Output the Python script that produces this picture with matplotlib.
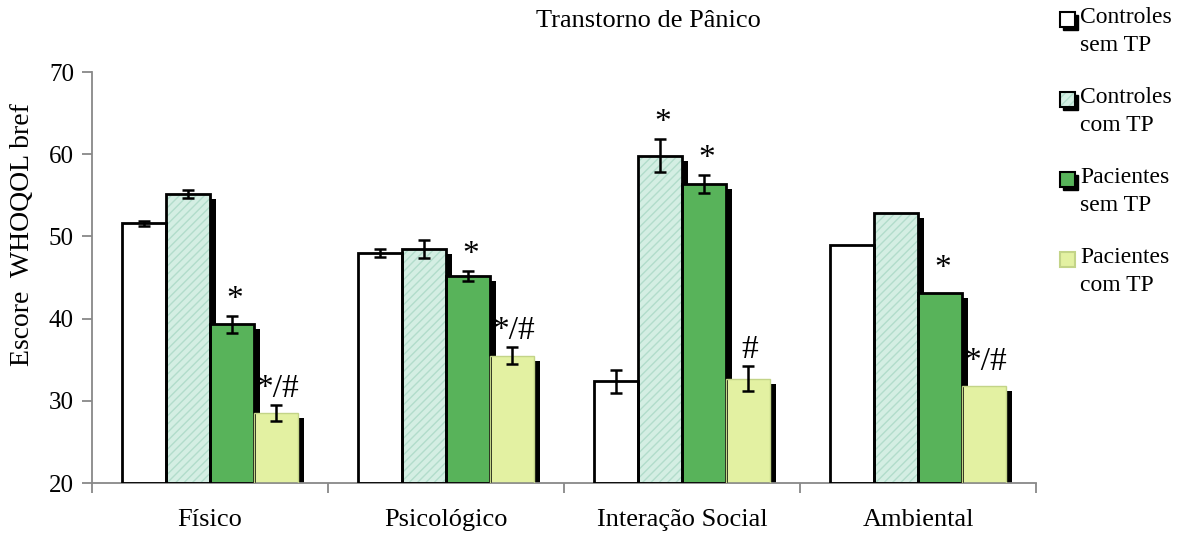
import numpy as np
import matplotlib
matplotlib.use('Agg')
import matplotlib.pyplot as plt
import matplotlib.transforms as mtransforms
from matplotlib.patches import Rectangle

plt.rcParams['font.family'] = ['Liberation Serif', 'DejaVu Serif']

categories = ['Físico', 'Psicológico', 'Interação Social', 'Ambiental']
labels = ['Controles\nsem TP', 'Controles\ncom TP', 'Pacientes\nsem TP', 'Pacientes\ncom TP']

ctrl_sem = [51.6, 48.0, 32.4, 48.9]
ctrl_sem_err = [0.3, 0.45, 1.4, np.nan]
ctrl_com = [55.2, 48.5, 59.8, 52.8]
ctrl_com_err = [0.5, 1.1, 2.0, np.nan]
pac_sem = [39.3, 45.2, 56.4, 43.1]
pac_sem_err = [1.0, 0.6, 1.1, np.nan]
pac_com = [28.5, 35.5, 32.7, 31.8]
pac_com_err = [1.0, 1.0, 1.5, np.nan]

ctrl_sem_marks = ['', '', '', '']
ctrl_com_marks = ['', '', '*', '']
pac_sem_marks = ['*', '*', '*', '*']
pac_com_marks = ['*/#', '*/#', '#', '*/#']

series = [
    (ctrl_sem, ctrl_sem_err, ctrl_sem_marks),
    (ctrl_com, ctrl_com_err, ctrl_com_marks),
    (pac_sem, pac_sem_err, pac_sem_marks),
    (pac_com, pac_com_err, pac_com_marks),
]
faces = ['white', '#d4eee3', '#58b35a', '#e3f1a2']
hatches = [None, '////', None, None]
hatch_cols = ['white', '#b2dccb', '#58b35a', '#e3f1a2']
edges = ['black', 'black', 'black', '#c3d488']
edge_w = [2.0, 2.0, 2.0, 1.0]

fig = plt.figure(figsize=(11.87, 5.43), dpi=100)
ax = fig.add_axes([92 / 1187, 60 / 543, 944 / 1187, 411 / 543])

x = np.arange(len(categories))
w = 0.186
shadow = ax.transData + mtransforms.ScaledTranslation(6 / 100, -5 / 100, fig.dpi_scale_trans)

# shadows first, behind every bar
for i, (vals, err, marks) in enumerate(series):
    xs = x + (i - 1.5) * w
    ax.bar(xs, np.array(vals) - 20, w, bottom=20, color='black', zorder=1,
           transform=shadow)

for i, (vals, err, marks) in enumerate(series):
    xs = x + (i - 1.5) * w
    ax.bar(xs, np.array(vals) - 20, w, bottom=20, color=faces[i],
           hatch=hatches[i], edgecolor=hatch_cols[i], linewidth=0, zorder=2)
    ax.bar(xs, np.array(vals) - 20, w, bottom=20, fill=False,
           edgecolor=edges[i], linewidth=edge_w[i], zorder=3)
    err = np.array(err)
    ok = ~np.isnan(err)
    ax.errorbar(xs[ok], np.array(vals)[ok], yerr=err[ok], fmt='none',
                ecolor='black', elinewidth=1.8, capsize=4, capthick=1.8, zorder=4)
    for xi, v, e, m in zip(xs, vals, err, marks):
        if m:
            top = v + 1.0 if np.isnan(e) else v + e
            ax.text(xi + 0.01, top + 1.0, m, ha='center', va='baseline',
                    fontsize=24, zorder=5)

ax.set_xlim(-0.5, 3.5)
ax.set_ylim(20, 70)
ax.set_yticks([20, 30, 40, 50, 60, 70])
ax.set_xticks(x)
ax.set_xticklabels(categories, fontsize=19)
ax.set_xticks(np.arange(-0.5, 4, 1), minor=True)
ax.tick_params(axis='x', which='major', length=0, pad=19)
ax.tick_params(axis='x', which='minor', length=7, width=1.3, color='#888888')
ax.tick_params(axis='y', length=7, width=1.3, color='#888888', labelsize=18, pad=6)
for s in ['top', 'right']:
    ax.spines[s].set_visible(False)
for s in ['left', 'bottom']:
    ax.spines[s].set_color('#888888')
    ax.spines[s].set_linewidth(1.3)

fig.text(648 / 1187, 1 - 21 / 543, 'Transtorno de Pânico', ha='center', va='center',
         fontsize=19)
fig.text(23 / 1187, 1 - 235 / 543, 'Escore  WHOQOL bref', ha='center', va='center',
         rotation=90, fontsize=20)

# legend drawn by hand so the box sits next to the first line
W, H = 1187, 543
for i, lab in enumerate(labels):
    y0 = 12 + 80 * i
    if i < 3:
        fig.patches.append(Rectangle(((1060 + 3) / W, 1 - (y0 + 15 + 3) / H), 15 / W, 15 / H,
                                     transform=fig.transFigure, color='black'))
    fig.patches.append(Rectangle((1060 / W, 1 - (y0 + 15) / H), 15 / W, 15 / H,
                                 transform=fig.transFigure, facecolor=faces[i],
                                 hatch=hatches[i], edgecolor=hatch_cols[i], linewidth=0))
    fig.patches.append(Rectangle((1060 / W, 1 - (y0 + 15) / H), 15 / W, 15 / H,
                                 transform=fig.transFigure, fill=False,
                                 edgecolor=edges[i], linewidth=1.5))
    fig.text(1080 / W, 1 - (y0 - 5) / H, lab, ha='left', va='top', fontsize=17,
             linespacing=1.45)

fig.savefig('out.png', dpi=100)
